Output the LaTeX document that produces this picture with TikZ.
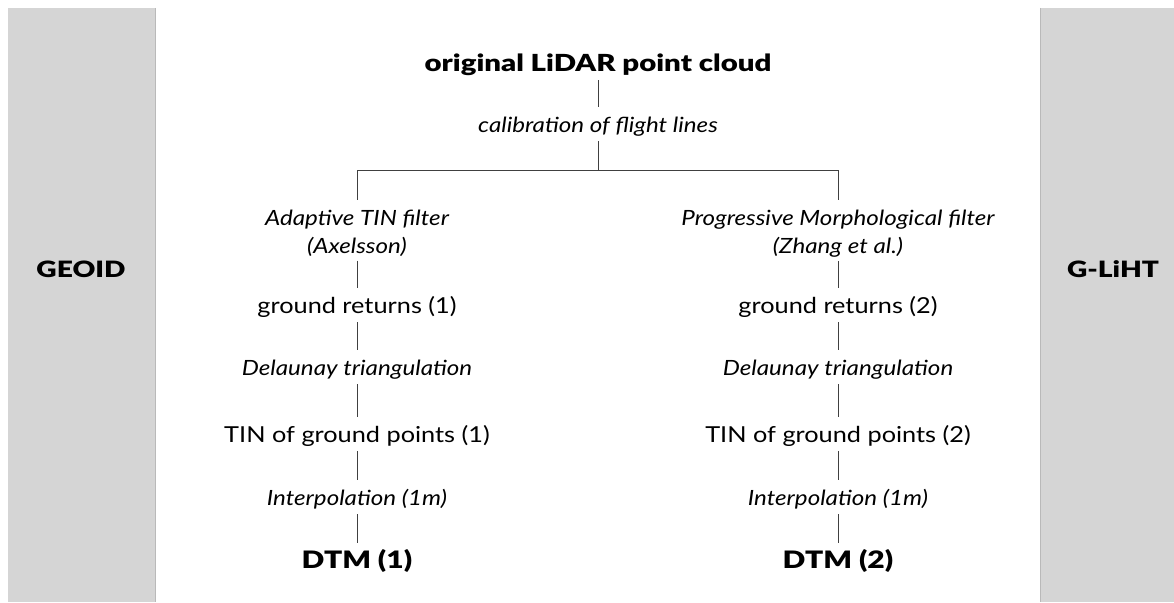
\documentclass[tikz,border=0pt]{standalone}
\usepackage{fontspec}
\setmainfont{Lato}[FakeStretch=1.15]
\newfontfamily\heavy{Lato Black}[FakeStretch=1.25]
\begin{document}
\begin{tikzpicture}[x=1pt, y=-1pt,
    box/.style={inner sep=0pt, outer sep=0pt, anchor=base, text height=15pt, text depth=5pt},
    result/.style={box, font=\fontsize{22}{26}\selectfont},
    method/.style={box, font=\fontsize{21}{26}\selectfont\itshape},
    filter/.style={inner sep=0pt, outer sep=0pt, anchor=north, align=center, font=\fontsize{21}{28}\selectfont\itshape},
    output/.style={box, font=\fontsize{22.5}{26}\heavy},
    link/.style={line width=1pt, black!75, shorten <=4pt, shorten >=10pt}]
    \useasboundingbox (0,0) rectangle (1174,602);
    \fill[gray!33] (8,8) rectangle (155,602); \draw[gray!55, line width=1pt] (155,8) -- (155,602);
    \fill[gray!33] (1040,8) rectangle (1174,602); \draw[gray!55, line width=1pt] (1040,8) -- (1040,602);
    \node[output] (geoid) at (81,277) {GEOID};
    \node[output] (gliht) at (1113,277) {G-LiHT};

    \node[output, font=\fontsize{23.5}{28}\heavy] (orig) at (598,71) {original LiDAR point cloud};
    \node[method] (calib) at (598,132) {calibration of flight lines};
    \coordinate (fork) at (598,170);
    \node[filter] (atin) at (357,210) {Adaptive TIN filter\\(Axelsson)};
    \node[filter] (pmf) at (838,210) {Progressive Morphological filter\\(Zhang et al.)};
    \node[result] (gr1) at (357,313) {ground returns (1)};
    \node[result] (gr2) at (838,313) {ground returns (2)};
    \node[method] (del1) at (357,375) {Delaunay triangulation};
    \node[method] (del2) at (838,375) {Delaunay triangulation};
    \node[result] (tin1) at (357,442) {TIN of ground points (1)};
    \node[result] (tin2) at (838,442) {TIN of ground points (2)};
    \node[method] (int1) at (357,505) {Interpolation (1m)};
    \node[method] (int2) at (838,505) {Interpolation (1m)};
    \node[output, font=\fontsize{24}{26}\heavy] (dtm1) at (357,568) {DTM (1)};
    \node[output, font=\fontsize{24}{26}\heavy] (dtm2) at (838,568) {DTM (2)};

    \draw[link] (orig)--(calib);
    \draw[link, shorten >=0pt] (calib)--(fork);
    \draw[link, shorten <=0pt] (fork) -| (atin); \draw[link, shorten <=0pt] (fork) -| (pmf);
    \draw[link] (atin)--(gr1); \draw[link] (gr1)--(del1); \draw[link] (del1)--(tin1); \draw[link] (tin1)--(int1); \draw[link] (int1)--(dtm1);
    \draw[link] (pmf)--(gr2); \draw[link] (gr2)--(del2); \draw[link] (del2)--(tin2); \draw[link] (tin2)--(int2); \draw[link] (int2)--(dtm2);
\end{tikzpicture}
\end{document}
